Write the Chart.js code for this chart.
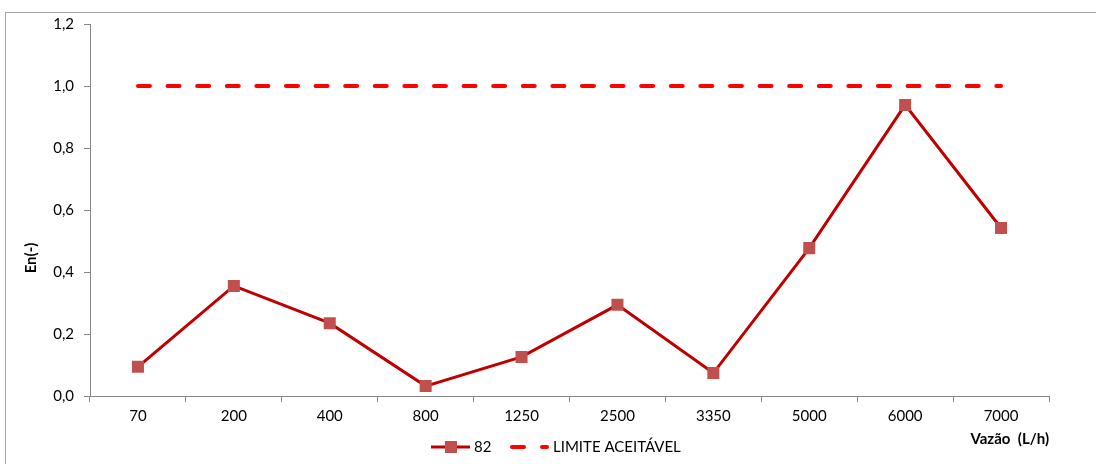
<!DOCTYPE html>
<html>
<head>
<meta charset="utf-8">
<script src="https://cdn.jsdelivr.net/npm/chart.js@4.4.1/dist/chart.umd.min.js"></script>
<style>
    html, body { margin: 0; padding: 0; background: #fff; overflow: hidden; }
    #frame { position: absolute; left: 5px; top: 12px; width: 1200px; height: 600px; border: 1px solid #A6A6A6; }
    #wrap { position: absolute; left: 0; top: 0; width: 1096px; height: 464px; }
</style>
</head>
<body>
<div id="frame"></div>
<div id="wrap"><canvas id="myChart" width="1096" height="464"></canvas></div>
<script>
// categories (Vazão L/h)
var vazao = ["70", "200", "400", "800", "1250", "2500", "3350", "5000", "6000", "7000"];
// En values, series 82
var en82 = [0.094, 0.355, 0.235, 0.032, 0.126, 0.294, 0.074, 0.477, 0.939, 0.542];
// acceptable limit
var limite = [1, 1, 1, 1, 1, 1, 1, 1, 1, 1];

var fontName = "Lato";
var axisGray = "#868686";

// y title, x title and legend drawn by hand (Excel-like placement)
const extraText = {
    id: "extraText",
    afterDraw(chart) {
        const ctx = chart.ctx;
        const area = chart.chartArea;
        ctx.save();
        ctx.fillStyle = "#000";
        ctx.font = "bold 15px " + fontName;
        ctx.textAlign = "center";
        ctx.textBaseline = "middle";
        ctx.translate(31, 258);
        ctx.rotate(-Math.PI / 2);
        ctx.fillText("En(-)", 0, 0);
        ctx.restore();

        ctx.save();
        ctx.fillStyle = "#000";
        ctx.font = "bold 15px " + fontName;
        ctx.textAlign = "right";
        ctx.textBaseline = "middle";
        ctx.fillText("Vazão  (L/h)", area.right, 439);
        ctx.restore();

        // legend
        const ds = chart.data.datasets;
        const ly = 447;
        ctx.save();
        ctx.strokeStyle = ds[0].borderColor;
        ctx.lineWidth = 3;
        ctx.beginPath();
        ctx.moveTo(431, ly);
        ctx.lineTo(470, ly);
        ctx.stroke();
        ctx.fillStyle = ds[0].pointBackgroundColor;
        ctx.fillRect(445, ly - 6, 12, 12);
        ctx.fillStyle = "#000";
        ctx.font = "15px " + fontName;
        ctx.textAlign = "left";
        ctx.textBaseline = "middle";
        ctx.fillText(ds[0].label, 474, ly);

        ctx.strokeStyle = ds[1].borderColor;
        ctx.lineWidth = 4;
        ctx.lineCap = "round";
        ctx.beginPath();
        ctx.moveTo(512, ly);
        ctx.lineTo(524, ly);
        ctx.moveTo(542, ly);
        ctx.lineTo(547, ly);
        ctx.stroke();
        ctx.fillText(ds[1].label, 553, ly);
        ctx.restore();
    }
};

const data = {
    labels: vazao,
    datasets: [
        {
            label: "82",
            data: en82,
            borderColor: "#C00000",
            borderWidth: 3,
            pointStyle: "rect",
            pointRadius: 8.5,
            pointHoverRadius: 8.5,
            pointBackgroundColor: "#C0504D",
            pointBorderColor: "#C0504D",
            pointBorderWidth: 0,
            tension: 0,
            fill: false,
            order: 1,
        },
        {
            label: "LIMITE ACEITÁVEL",
            data: limite,
            borderColor: "#FF0000",
            borderWidth: 4,
            borderDash: [12, 17.6],
            borderCapStyle: "round",
            pointRadius: 0,
            tension: 0,
            fill: false,
            order: 2,
        },
    ],
};

const config = {
    type: "line",
    data,
    plugins: [extraText],
    options: {
        responsive: false,
        animation: false,
        layout: { padding: { left: 0, top: 24, right: 47, bottom: 0 } },
        plugins: {
            legend: { display: false },
            tooltip: { enabled: false },
        },
        scales: {
            x: {
                offset: true,
                afterFit: function (scale) { scale.height = 68; },
                grid: {
                    offset: true,
                    drawOnChartArea: false,
                    drawTicks: true,
                    tickLength: 6,
                    color: axisGray,
                },
                border: { color: axisGray, width: 1 },
                ticks: {
                    color: "#000",
                    padding: 5,
                    maxRotation: 0,
                    font: { family: fontName, size: 15 },
                },
            },
            y: {
                min: 0,
                max: 1.2,
                afterFit: function (scale) { scale.width = 90; },
                grid: {
                    drawOnChartArea: false,
                    drawTicks: true,
                    tickLength: 6,
                    color: axisGray,
                },
                border: { color: axisGray, width: 1 },
                ticks: {
                    stepSize: 0.2,
                    color: "#000",
                    padding: 10,
                    font: { family: fontName, size: 15 },
                    callback: function (value) {
                        return value.toFixed(1).replace(".", ",");
                    },
                },
            },
        },
    },
};

new Chart(document.getElementById("myChart"), config);
</script>
</body>
</html>
